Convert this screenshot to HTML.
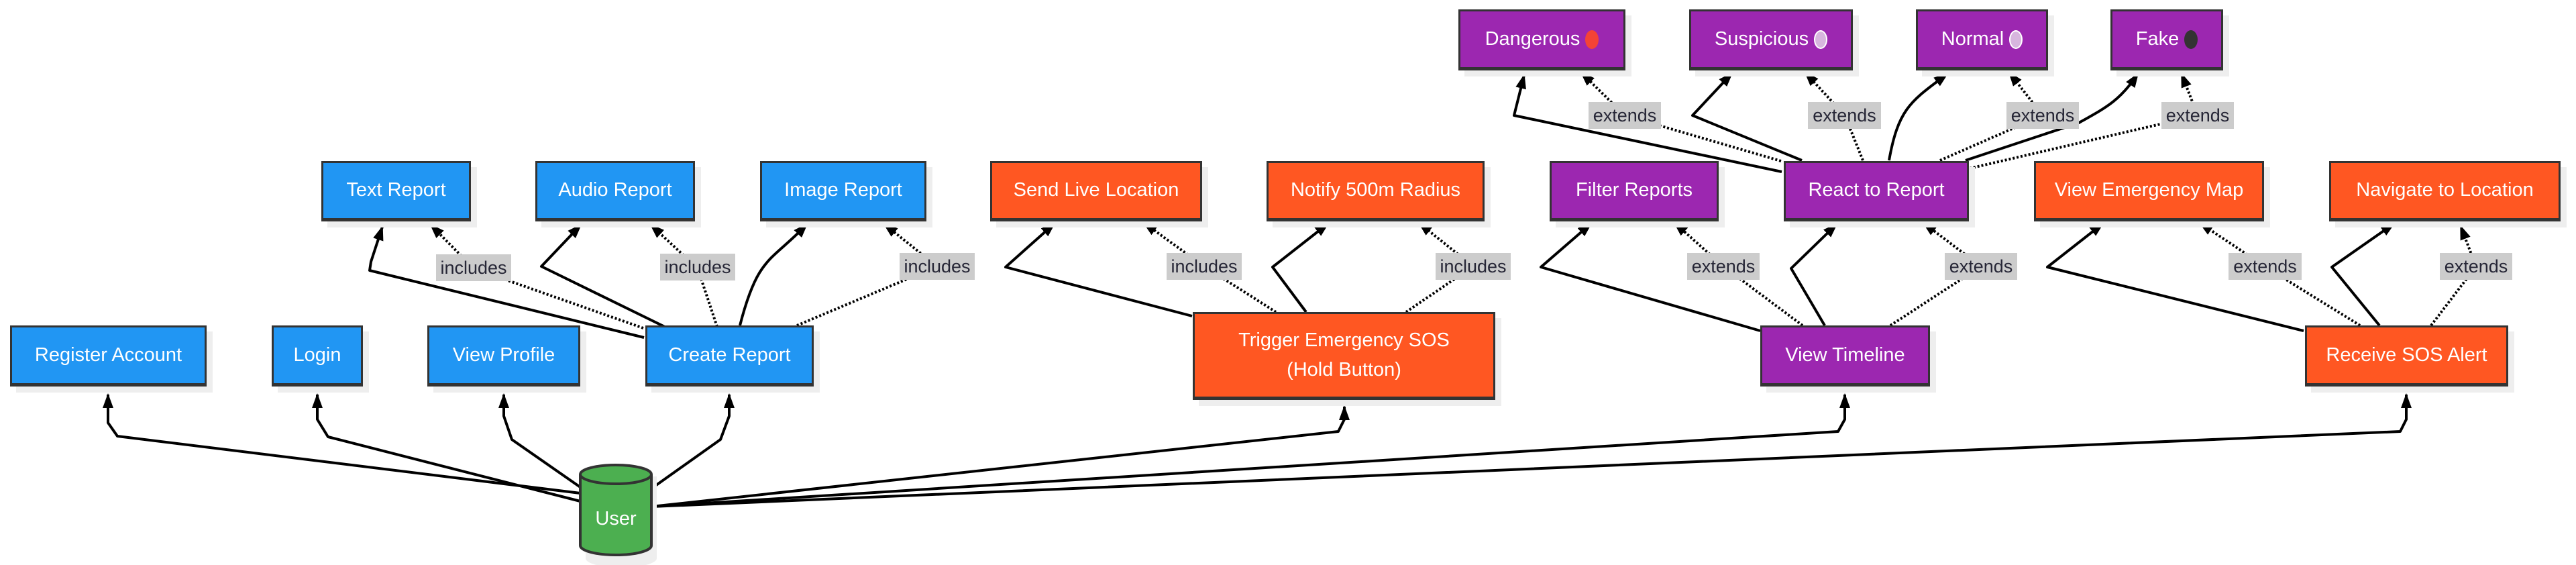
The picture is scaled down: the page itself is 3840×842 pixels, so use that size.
<!DOCTYPE html>
<html><head><meta charset="utf-8">
<style>
html,body{margin:0;padding:0;background:#fff;}
body{width:3840px;height:842px;position:relative;overflow:hidden;font-family:"Liberation Sans",sans-serif;}
.n{position:absolute;box-sizing:border-box;border:3px solid #333;border-bottom-width:5px;color:#fff;font-size:29px;display:flex;align-items:center;justify-content:center;text-align:center;box-shadow:9px 9px 0 #eee;line-height:1.5;}
.b{background:#2196f3}.o{background:#ff5722}.p{background:#9c27b0}
.l{position:absolute;background:#ccc;color:#262636;font-size:27px;height:40px;line-height:40px;text-align:center;overflow:hidden;}
.dot{display:inline-block;width:20px;height:28px;border-radius:50%;margin-left:8px;vertical-align:middle;}
svg{position:absolute;left:0;top:0;}
</style></head><body>
<svg width="3840" height="842" viewBox="0 0 3840 842">
<defs>
<marker id="a" markerUnits="userSpaceOnUse" markerWidth="22" markerHeight="18" refX="20" refY="8" orient="auto"><path d="M0,0 L22,8 L0,16 z" fill="#000"/></marker>
</defs>
<g fill="none" stroke="#000" stroke-width="4" stroke-linejoin="round" marker-end="url(#a)">
<polyline points="865,735 175,650 161,630 161,588"/>
<polyline points="865,747 489,651 473,625 473,588"/>
<polyline points="865,726 763,655 751,620 751,588"/>
<polyline points="974,726 1074,655 1087,620 1087,588"/>
<polyline points="971,755 1995,643 2004,625 2004,606"/>
<polyline points="971,755 2740,643 2750,625 2750,588"/>
<polyline points="971,755 3578,643 3587,625 3587,588"/>
<polyline points="960,503 551,403 553,390 570,338"/>
<polyline points="991,487 807,397 866,335"/>
<path d="M1103,485 C1130,380 1150,390 1203,334"/>
<polyline points="1777,471 1499,398 1572,333"/>
<polyline points="1947,465 1897,398 1980,333"/>
<polyline points="2624,493 2297,398 2372,333"/>
<polyline points="2720,485 2670,400 2738,334"/>
<polyline points="3434,493 3052,398 3135,333"/>
<polyline points="3547,485 3476,398 3569,333"/>
<polyline points="2656,256 2257,172 2272,112"/>
<polyline points="2686,239 2523,172 2582,109"/>
<path d="M2816,239 C2830,160 2850,150 2903,110"/>
<path d="M2930,239 L3099,183 C3140,160 3160,150 3187,110"/>
</g>
<g fill="none" stroke="#000" stroke-width="4" stroke-dasharray="3,3" marker-end="url(#a)">
<polyline points="959,489 706,400 642,335"/>
<polyline points="1069,487 1040,400 970,335"/>
<polyline points="1188,485 1397,397 1318,334"/>
<polyline points="1902,465 1795,397 1705,332"/>
<polyline points="2096,465 2196,397 2115,332"/>
<polyline points="2687,485 2569,397 2496,332"/>
<polyline points="2818,485 2953,397 2867,332"/>
<polyline points="3518,485 3376,397 3279,332"/>
<polyline points="3624,485 3691,397 3668,337"/>
<polyline points="2655,240 2422,172 2357,108"/>
<polyline points="2777,239 2750,172 2691,108"/>
<polyline points="2892,239 3045,172 2995,108"/>
<polyline points="2936,251 3276,172 3252,110"/>
</g>
<g>
<path d="M873,710 L873,832 A53,14 0 0 0 979,832 L979,710 z" fill="#eee"/>
<path d="M865,707 L865,813 A53,14 0 0 0 971,813 L971,707 A53,14 0 0 0 865,707 z" fill="#4caf50" stroke="#333" stroke-width="4"/>
<path d="M865,707 A53,14 0 0 0 971,707" fill="none" stroke="#333" stroke-width="4"/>
<text x="918" y="782" fill="#fff" font-size="29" text-anchor="middle" font-family="Liberation Sans, sans-serif">User</text>
</g>
</svg>

<div class="l" style="left:650px;top:379px;width:112px">includes</div>
<div class="l" style="left:984px;top:378px;width:112px">includes</div>
<div class="l" style="left:1341px;top:377px;width:112px">includes</div>
<div class="l" style="left:1739px;top:377px;width:112px">includes</div>
<div class="l" style="left:2140px;top:377px;width:112px">includes</div>
<div class="l" style="left:2515px;top:377px;width:108px">extends</div>
<div class="l" style="left:2899px;top:377px;width:108px">extends</div>
<div class="l" style="left:3322px;top:377px;width:109px">extends</div>
<div class="l" style="left:3637px;top:377px;width:108px">extends</div>
<div class="l" style="left:2368px;top:152px;width:108px">extends</div>
<div class="l" style="left:2695px;top:152px;width:109px">extends</div>
<div class="l" style="left:2991px;top:152px;width:108px">extends</div>
<div class="l" style="left:3222px;top:152px;width:108px">extends</div>

<div class="n b" style="left:15px;top:485px;width:293px;height:91px">Register Account</div>
<div class="n b" style="left:405px;top:485px;width:136px;height:91px">Login</div>
<div class="n b" style="left:637px;top:485px;width:228px;height:91px">View Profile</div>
<div class="n b" style="left:962px;top:485px;width:251px;height:91px">Create Report</div>
<div class="n o" style="left:1778px;top:465px;width:451px;height:131px">Trigger Emergency SOS<br>(Hold Button)</div>
<div class="n p" style="left:2624px;top:485px;width:253px;height:91px">View Timeline</div>
<div class="n o" style="left:3436px;top:485px;width:303px;height:91px">Receive SOS Alert</div>

<div class="n b" style="left:479px;top:240px;width:223px;height:90px">Text Report</div>
<div class="n b" style="left:798px;top:240px;width:238px;height:90px">Audio Report</div>
<div class="n b" style="left:1133px;top:240px;width:248px;height:90px">Image Report</div>
<div class="n o" style="left:1476px;top:240px;width:316px;height:90px">Send Live Location</div>
<div class="n o" style="left:1888px;top:240px;width:325px;height:90px">Notify 500m Radius</div>
<div class="n p" style="left:2310px;top:240px;width:252px;height:90px">Filter Reports</div>
<div class="n p" style="left:2659px;top:240px;width:276px;height:90px">React to Report</div>
<div class="n o" style="left:3032px;top:240px;width:343px;height:90px">View Emergency Map</div>
<div class="n o" style="left:3472px;top:240px;width:345px;height:90px">Navigate to Location</div>

<div class="n p" style="left:2174px;top:14px;width:249px;height:91px">Dangerous<span class="dot" style="background:#f44336"></span></div>
<div class="n p" style="left:2518px;top:14px;width:244px;height:91px">Suspicious<span class="dot" style="background:#d7b5de;border:2px solid #fff;box-sizing:border-box"></span></div>
<div class="n p" style="left:2856px;top:14px;width:197px;height:91px">Normal<span class="dot" style="background:#d7b5de;border:2px solid #fff;box-sizing:border-box"></span></div>
<div class="n p" style="left:3146px;top:14px;width:168px;height:91px">Fake<span class="dot" style="background:#333"></span></div>
</body></html>
